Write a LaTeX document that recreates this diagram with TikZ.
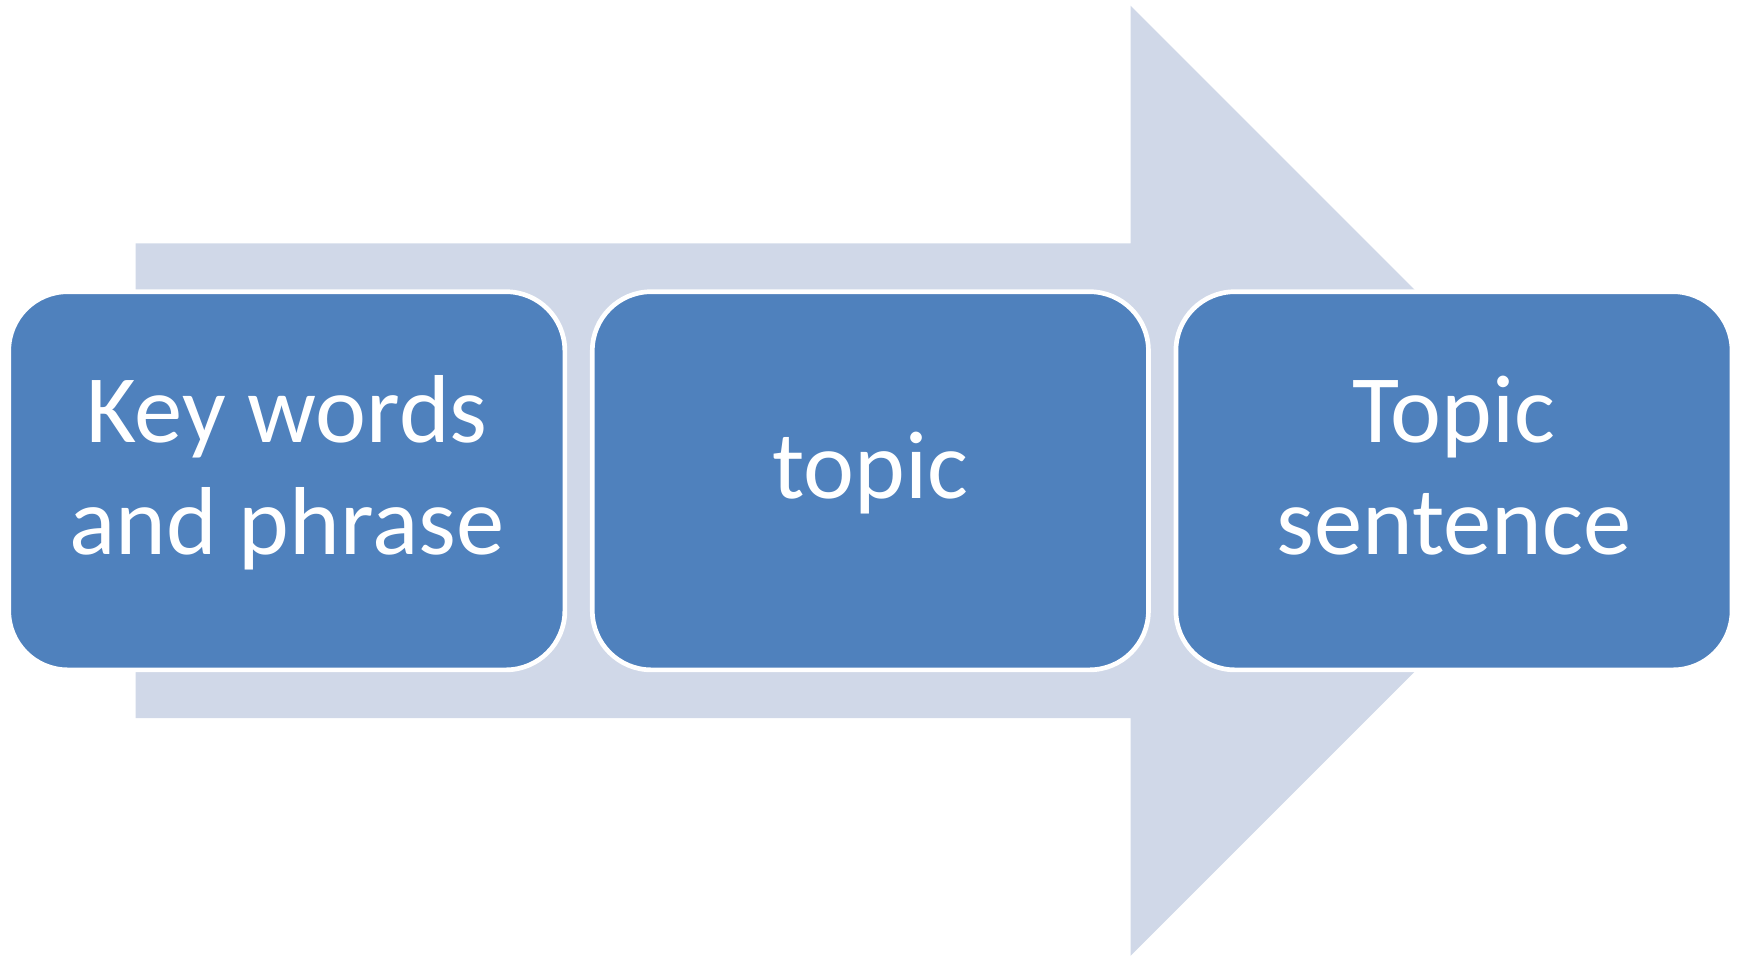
\documentclass[tikz,border=0pt]{standalone}
\usepackage{fontspec}
\setmainfont{Carlito}
\usepackage{tikz}
\usetikzlibrary{positioning}
\definecolor{stepblue}{RGB}{79,129,189}
\definecolor{arrowgray}{RGB}{208,216,232}

\begin{document}
\begin{tikzpicture}[x=0.01cm,y=-0.01cm,
  stepbox/.style={rectangle,rounded corners=0.53cm,fill=stepblue,draw=white,
    line width=1.2pt,minimum width=5cm,minimum height=3.4cm,text depth=8pt,
    text=white,align=center,font=\fontsize{24.7}{28.7}\selectfont}]
\useasboundingbox (0,0) rectangle (1568,860);
% Big arrow behind
\fill[arrowgray] (122,219) -- (1017,219) -- (1017,5) -- (1444.5,432.5)
  -- (1017,860) -- (1017,646) -- (122,646) -- cycle;

% Steps
\node[stepbox] (kw) at (258,432.5) {Key words\\and phrase};
\node[stepbox] (tp) at (783,432.5) {topic};
\node[stepbox] (ts) at (1308,432.5) {Topic\\sentence};
\end{tikzpicture}
\end{document}
